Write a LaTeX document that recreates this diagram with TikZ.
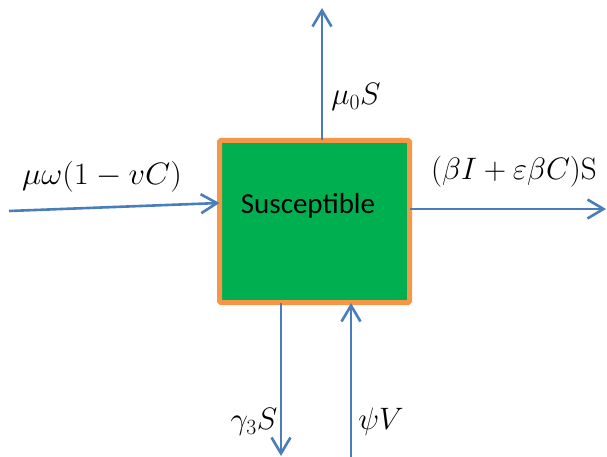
\documentclass[tikz,border=0pt]{standalone}
\usepackage{fix-cm}
\usepackage{fontspec}
\newfontfamily\calibri{Carlito}
\usetikzlibrary{arrows.meta}
\definecolor{boxgreen}{HTML}{00B050}
\definecolor{boxorange}{HTML}{F79646}
\definecolor{arrblue}{HTML}{4A7EBB}
\tikzset{
  flow/.style={draw=arrblue, line width=2.6pt, -{Straight Barb[length=16pt,width=19pt,line width=2.6pt]}},
  lbl/.style={inner sep=0pt, font=\fontsize{31}{35}\selectfont},
  compart/.style={draw=boxorange, fill=boxgreen, line width=5pt, rounded corners=1.5pt, minimum width=190pt, minimum height=162pt, inner sep=0pt}
}
\begin{document}
\begin{tikzpicture}[x=1pt,y=-1pt]
\useasboundingbox (0,0) rectangle (607,457);
\node[compart] (box) at (314.5,221.5) {};
\node[inner sep=0pt, font=\calibri\fontsize{29}{34}\selectfont] (name) at (308,206) {Susceptible};
\coordinate (inL) at (9,211);
\coordinate (inT) at (219.5,203);
\coordinate (topS) at (322,140.5);
\coordinate (topE) at (322,8);
\coordinate (rS) at (409.5,209);
\coordinate (rE) at (606,209);
\coordinate (dS) at (281,302.5);
\coordinate (dE) at (281,456);
\coordinate (uS) at (351,458);
\coordinate (uE) at (351,303);
\draw[flow] (inL) -- (inT);
\draw[flow] (topS) -- (topE);
\draw[flow] (rS) -- (rE);
\draw[flow] (dS) -- (dE);
\draw[flow] (uS) -- (uE);
\node[lbl, xscale=1.05] (l1) at (102,177) {$\mu\omega(1-vC)$};
\node[lbl] (l2) at (356,97) {$\mu_0 S$};
\node[lbl] (l3) at (514,172) {$(\beta I+\varepsilon\beta C)\mathrm{S}$};
\node[lbl] (l4) at (254,422) {$\gamma_3 S$};
\node[lbl] (l5) at (381,422) {$\psi V$};
\end{tikzpicture}
\end{document}
